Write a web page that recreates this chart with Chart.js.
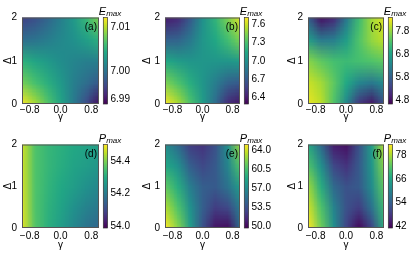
<!DOCTYPE html>
<html>
<head>
<meta charset="utf-8">
<script src="https://cdn.jsdelivr.net/npm/chart.js@4.4.1/dist/chart.umd.min.js"></script>
<style>
  body { margin: 0; background: #fff; }
  .panel { position: absolute; }
</style>
</head>
<body>
<div class="panel" style="left:0px;top:0px"><canvas id="pa" width="138" height="127"></canvas></div>
<div class="panel" style="left:138px;top:0px"><canvas id="pb" width="138" height="127"></canvas></div>
<div class="panel" style="left:276px;top:0px"><canvas id="pc" width="139" height="127"></canvas></div>
<div class="panel" style="left:0px;top:127px"><canvas id="pd" width="138" height="127"></canvas></div>
<div class="panel" style="left:138px;top:127px"><canvas id="pe" width="138" height="127"></canvas></div>
<div class="panel" style="left:276px;top:127px"><canvas id="pf" width="139" height="127"></canvas></div>
<script>
// grid of the maps: columns are gamma, rows are Delta (row 0 is Delta = 0)
const gammaVals = [-1, -0.667, -0.333, 0, 0.333, 0.667, 1];
const deltaVals = [0, 0.5, 1, 1.5, 2];
const xTicks = [-0.8, 0, 0.8];
const xTickLabels = ['\u22120.8', '0.0', '0.8'];
const yTicks = [0, 1, 2];
const yTickLabels = ['0', '1', '2'];

// E_max
const eMaxA = [
  [7.0125, 7.0096, 7.0061, 7.0027, 6.9985, 6.9941, 6.9892],
  [7.0076, 7.0056, 7.0037, 7.0015, 6.9990, 6.9973, 6.9954],
  [7.0039, 7.0027, 7.0015, 7.0003, 6.9995, 6.9990, 6.9990],
  [6.9973, 6.9978, 6.9988, 6.9998, 7.0007, 7.0022, 7.0039],
  [6.9934, 6.9946, 6.9966, 6.9990, 7.0015, 7.0047, 7.0081]
];
const eMaxB = [
  [7.71, 7.54, 7.31, 7.07, 6.79, 6.46, 6.36],
  [7.43, 7.31, 7.17, 7.03, 6.89, 6.74, 6.69],
  [7.14, 7.07, 7.03, 7.03, 7.03, 7.03, 7.07],
  [6.72, 6.74, 6.86, 7.03, 7.14, 7.28, 7.43],
  [6.40, 6.46, 6.69, 7.00, 7.21, 7.43, 7.64]
];
const eMaxC = [
  [8.27, 8.01, 7.33, 6.32, 5.19, 4.82, 5.57],
  [8.08, 7.86, 7.44, 6.88, 6.32, 6.13, 6.43],
  [7.71, 7.44, 7.26, 7.18, 7.26, 7.33, 7.44],
  [6.69, 6.13, 6.21, 6.69, 7.33, 7.78, 8.01],
  [5.76, 4.82, 5.08, 6.13, 7.18, 7.86, 8.19]
];
// P_max
const pMaxD = [
  [54.475, 54.362, 54.311, 54.271, 54.225, 54.184, 54.158],
  [54.469, 54.357, 54.316, 54.286, 54.245, 54.214, 54.194],
  [54.464, 54.357, 54.322, 54.296, 54.271, 54.245, 54.225],
  [54.459, 54.357, 54.327, 54.306, 54.286, 54.271, 54.255],
  [54.459, 54.357, 54.327, 54.311, 54.296, 54.286, 54.276]
];
const pMaxE = [
  [65.0, 62.25, 58.12, 53.53, 50.47, 50.16, 55.06],
  [63.16, 60.72, 57.35, 54.29, 52.45, 53.07, 56.13],
  [61.18, 59.19, 56.13, 54.29, 53.98, 55.51, 58.12],
  [58.88, 57.35, 54.29, 53.07, 53.98, 56.59, 60.72],
  [57.04, 55.06, 52.45, 51.99, 53.53, 57.35, 62.71]
];
const pMaxF = [
  [83.6, 74.2, 62.3, 49.4, 41.8, 49.4, 67.4],
  [80.6, 71.6, 60.1, 51.6, 48.6, 57.1, 69.9],
  [77.2, 67.4, 55.8, 51.6, 52.9, 61.4, 72.9],
  [71.6, 62.3, 50.3, 47.3, 52.9, 63.1, 75.9],
  [66.5, 55.8, 44.3, 43.0, 51.6, 64.4, 78.5]
];

// colorbar limits and ticks
const cbRangeA = [6.9887, 7.0127];
const cbTicksA = [6.99, 6.9978, 7.01];
const cbLabelsA = ['6.99', '7.00', '7.01'];
const cbRangeB = [6.29, 7.71];
const cbTicksB = [6.4, 6.7, 7.0, 7.3, 7.6];
const cbLabelsB = ['6.4', '6.7', '7.0', '7.3', '7.6'];
const cbRangeC = [4.63, 8.38];
const cbTicksC = [4.8, 5.8, 6.8, 7.8];
const cbLabelsC = ['4.8', '5.8', '6.8', '7.8'];
const cbRangeD = [53.99, 54.50];
const cbTicksD = [54.0, 54.2, 54.4];
const cbLabelsD = ['54.0', '54.2', '54.4'];
const cbRangeE = [49.7, 65.0];
const cbTicksE = [50.0, 53.5, 57.0, 60.5, 64.0];
const cbLabelsE = ['50.0', '53.5', '57.0', '60.5', '64.0'];
const cbRangeF = [40.9, 83.6];
const cbTicksF = [42, 54, 66, 78];
const cbLabelsF = ['42', '54', '66', '78'];

const viridis = ['#440154', '#482475', '#414487', '#355f8d', '#2a788e', '#21918c',
                 '#22a884', '#44bf70', '#7ad151', '#bddf26', '#fde725'];
const FONT = 'Liberation Sans';

function hexRgb(h) {
  return [parseInt(h.slice(1, 3), 16), parseInt(h.slice(3, 5), 16), parseInt(h.slice(5, 7), 16)];
}
function cmap(t) {
  t = Math.max(0, Math.min(1, t));
  const f = t * (viridis.length - 1);
  const i = Math.min(Math.floor(f), viridis.length - 2);
  const u = f - i;
  const a = hexRgb(viridis[i]), b = hexRgb(viridis[i + 1]);
  return [0, 1, 2].map(k => Math.round(a[k] + (b[k] - a[k]) * u));
}

const heatPlugin = {
  id: 'heat',
  beforeDatasetsDraw(chart, args, opts) {
    const {ctx, chartArea, scales} = chart;
    const lo = opts.range[0], hi = opts.range[1];
    const nc = gammaVals.length, nr = deltaVals.length;
    const off = document.createElement('canvas');
    off.width = nc; off.height = nr;
    const octx = off.getContext('2d');
    const img = octx.createImageData(nc, nr);
    for (let r = 0; r < nr; r++) {
      for (let c = 0; c < nc; c++) {
        const v = opts.z[nr - 1 - r][c];
        const rgb = cmap((v - lo) / (hi - lo));
        const k = (r * nc + c) * 4;
        img.data[k] = rgb[0]; img.data[k + 1] = rgb[1]; img.data[k + 2] = rgb[2]; img.data[k + 3] = 255;
      }
    }
    octx.putImageData(img, 0, 0);
    const dg = (gammaVals[nc - 1] - gammaVals[0]) / (nc - 1);
    const dd = (deltaVals[nr - 1] - deltaVals[0]) / (nr - 1);
    const x0 = scales.x.getPixelForValue(gammaVals[0] - dg / 2);
    const x1 = scales.x.getPixelForValue(gammaVals[nc - 1] + dg / 2);
    const y0 = scales.y.getPixelForValue(deltaVals[nr - 1] + dd / 2);
    const y1 = scales.y.getPixelForValue(deltaVals[0] - dd / 2);
    ctx.save();
    ctx.beginPath();
    ctx.rect(chartArea.left, chartArea.top, chartArea.right - chartArea.left, chartArea.bottom - chartArea.top);
    ctx.clip();
    ctx.imageSmoothingEnabled = true;
    ctx.imageSmoothingQuality = 'low';
    ctx.drawImage(off, x0, y0, x1 - x0, y1 - y0);
    ctx.restore();

    // frame
    ctx.save();
    ctx.strokeStyle = '#555';
    ctx.lineWidth = 1;
    ctx.strokeRect(chartArea.left + 0.5, chartArea.top + 0.5,
      chartArea.right - chartArea.left - 1, chartArea.bottom - chartArea.top - 1);

    // colorbar
    const cb = scales.cb;
    const cx0 = chartArea.right + 4.3, cw = 4.3;
    const cyTop = cb.getPixelForValue(hi), cyBot = cb.getPixelForValue(lo);
    const grad = ctx.createLinearGradient(0, cyBot, 0, cyTop);
    viridis.forEach((col, i) => grad.addColorStop(i / (viridis.length - 1), col));
    ctx.fillStyle = grad;
    ctx.fillRect(cx0, cyTop, cw, cyBot - cyTop);
    ctx.strokeStyle = '#333';
    ctx.lineWidth = 0.7;
    ctx.strokeRect(cx0, cyTop, cw, cyBot - cyTop);

    // colorbar title, e.g. E_max
    ctx.fillStyle = '#000';
    ctx.textBaseline = 'alphabetic';
    ctx.textAlign = 'left';
    ctx.font = 'italic 11px ' + FONT;
    const tx = cx0 - 4.5, ty = chartArea.top - 3;
    ctx.fillText(opts.sym, tx, ty);
    const w = ctx.measureText(opts.sym).width;
    ctx.font = 'italic 8px ' + FONT;
    ctx.fillText('max', tx + w, ty + 1.5);

    // panel letter
    ctx.font = '10px ' + FONT;
    ctx.textAlign = 'right';
    ctx.textBaseline = 'middle';
    ctx.fillText(opts.tag, chartArea.right - 2, chartArea.top + 10);
    ctx.restore();
  }
};

function makePanel(id, z, range, cbTicks, cbLabels, sym, tag, lay) {
  const font = {family: FONT, size: 10};
  new Chart(document.getElementById(id), {
    type: 'scatter',
    data: {datasets: []},
    plugins: [heatPlugin],
    options: {
      responsive: false,
      animation: false,
      layout: {padding: {top: lay.top, left: 0, right: 0, bottom: 0}},
      plugins: {
        legend: {display: false},
        tooltip: {enabled: false},
        heat: {z: z, range: range, sym: sym, tag: tag}
      },
      scales: {
        x: {
          type: 'linear', min: -1, max: 1,
          afterBuildTicks: s => { s.ticks = xTicks.map(v => ({value: v})); },
          afterFit: s => { s.height = lay.xH; },
          ticks: {callback: (v, i) => xTickLabels[i], font: font, color: '#000', padding: lay.xPad, maxRotation: 0, autoSkip: false},
          grid: {display: false, drawTicks: false},
          border: {display: false},
          title: {display: true, text: '\u03b3', font: font, color: '#000', padding: {top: 0, bottom: lay.gPad}}
        },
        y: {
          type: 'linear', min: 0, max: 2,
          afterBuildTicks: s => { s.ticks = yTicks.map(v => ({value: v})); },
          afterFit: s => { s.width = lay.yW; },
          ticks: {callback: (v, i) => yTickLabels[i], font: font, color: '#000', padding: 5, autoSkip: false},
          grid: {display: false, drawTicks: false},
          border: {display: false},
          title: {display: true, text: '\u0394', font: font, color: '#000', padding: {top: lay.dPad, bottom: 0}}
        },
        cb: {
          type: 'linear', position: 'right', min: range[0], max: range[1],
          afterBuildTicks: s => { s.ticks = cbTicks.map(v => ({value: v})); },
          afterFit: s => { s.width = lay.cbW; },
          ticks: {callback: (v, i) => cbLabels[i], font: font, color: '#000', padding: 11.5, autoSkip: false},
          grid: {display: false, drawTicks: false},
          border: {display: false}
        }
      }
    }
  });
}

const topRow = {top: 15, xH: 23, xPad: 0, gPad: 4};
const botRow = {top: 13, xH: 26, xPad: 2.5, gPad: 2.5};
makePanel('pa', eMaxA, cbRangeA, cbTicksA, cbLabelsA, 'E', '(a)', Object.assign({yW: 22, cbW: 39, dPad: 2.5}, topRow));
makePanel('pb', eMaxB, cbRangeB, cbTicksB, cbLabelsB, 'E', '(b)', Object.assign({yW: 27, cbW: 36, dPad: 3.7}, topRow));
makePanel('pc', eMaxC, cbRangeC, cbTicksC, cbLabelsC, 'E', '(c)', Object.assign({yW: 32, cbW: 31, dPad: 10.3}, topRow));
makePanel('pd', pMaxD, cbRangeD, cbTicksD, cbLabelsD, 'P', '(d)', Object.assign({yW: 22, cbW: 39, dPad: 2.5}, botRow));
makePanel('pe', pMaxE, cbRangeE, cbTicksE, cbLabelsE, 'P', '(e)', Object.assign({yW: 27, cbW: 36, dPad: 3.7}, botRow));
makePanel('pf', pMaxF, cbRangeF, cbTicksF, cbLabelsF, 'P', '(f)', Object.assign({yW: 32, cbW: 31, dPad: 10.3}, botRow));
</script>
</body>
</html>
